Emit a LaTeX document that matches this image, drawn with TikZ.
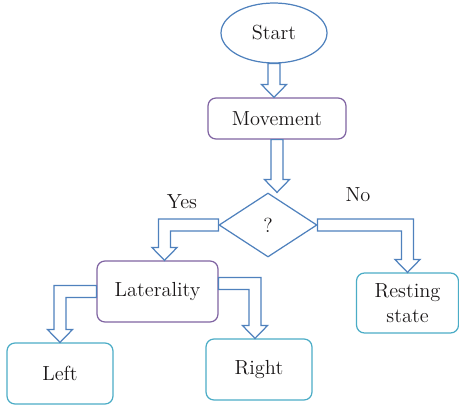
\documentclass[tikz,border=0pt]{standalone}
\usepackage{tikz}
\usetikzlibrary{shapes, calc}

\definecolor{arrowblue}{HTML}{4F81BD}
\definecolor{boxpurple}{HTML}{8064A2}
\definecolor{boxteal}{HTML}{4BACC6}
\definecolor{ink}{HTML}{1A1718}

\def\sw{3.4pt}
\def\hw{7.2pt}
\def\hl{7.4pt}

\tikzset{
	label/.style={text=ink, font=\fontsize{11.6}{14}\selectfont, inner sep=0pt},
	stepbox/.style={label, draw=boxpurple, line width=0.7pt, rectangle, rounded corners=4.5pt},
	endbox/.style={label, draw=boxteal, line width=0.7pt, rectangle, rounded corners=4.5pt, align=center},
	blockarrow/.style={draw=arrowblue, line width=0.7pt, fill=white, line join=miter}
}

% straight hollow arrow, pointing down
\newcommand{\droparrow}[2]{
	\draw[blockarrow] let \p1=(#1), \p2=(#2) in
		(\x1-\sw,\y1) -- (\x1-\sw,\y2+\hl) -- (\x1-\hw,\y2+\hl) -- (\x1,\y2)
		-- (\x1+\hw,\y2+\hl) -- (\x1+\sw,\y2+\hl) -- (\x1+\sw,\y1) -- cycle;
}

% hollow arrow, sideways then down
\newcommand{\elbowarrow}[2]{
	\draw[blockarrow] let \p1=(#1), \p2=(#2), \n1={sign(\x2-\x1)} in
		(\x1,\y1+\sw) -- (\x2+\n1*\sw,\y1+\sw) -- (\x2+\n1*\sw,\y2+\hl)
		-- (\x2+\n1*\hw,\y2+\hl) -- (\x2,\y2) -- (\x2-\n1*\hw,\y2+\hl)
		-- (\x2-\n1*\sw,\y2+\hl) -- (\x2-\n1*\sw,\y1-\sw) -- (\x1,\y1-\sw) -- cycle;
}

\begin{document}
\begin{tikzpicture}[x=0.02cm, y=-0.02cm]
	\useasboundingbox (0,0) rectangle (459,406);

	\node[label, draw=arrowblue, line width=0.7pt, ellipse, minimum width=2.12cm, minimum height=1.2cm] (start) at (274,33) {Start};
	\node[stepbox, minimum width=2.76cm, minimum height=0.82cm] (move) at (277,118.5) {Movement};
	\node[label, draw=arrowblue, line width=0.7pt, diamond, minimum width=1.96cm, minimum height=1.28cm] (q) at (268,225) {?};
	\node[stepbox, minimum width=2.42cm, minimum height=1.22cm] (lat) at (157.5,291.5) {Laterality};
	\node[endbox, minimum width=2.12cm, minimum height=1.22cm] (left) at (60,373.5) {Left};
	\node[endbox, minimum width=2.12cm, minimum height=1.22cm] (right) at (259,369.5) {Right};
	\node[endbox, minimum width=2.04cm, minimum height=1.2cm] (rest) at (407.5,303) {Resting\\state};

	\node[label] (yes) at (182,202) {Yes};
	\node[label] (no) at (358,195) {No};

	\coordinate (yestip) at ($(lat.north)+(7,0)$);
	\coordinate (latout) at ($(lat.east)+(0,-8)$);
	\coordinate (righttip) at ($(right.north)+(-4,0)$);

	\droparrow{start.south}{move.north}
	\droparrow{move.south}{q.north}
	\elbowarrow{q.west}{yestip}
	\elbowarrow{q.east}{rest.north}
	\elbowarrow{lat.west}{left.north}
	\elbowarrow{latout}{righttip}
\end{tikzpicture}
\end{document}
